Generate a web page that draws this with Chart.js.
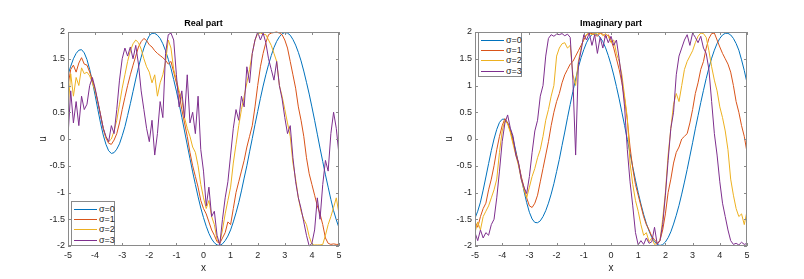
<!DOCTYPE html>
<html>
<head>
<meta charset="utf-8">
<script src="https://cdn.jsdelivr.net/npm/chart.js@4.4.0/dist/chart.umd.min.js"></script>
<style>
html,body{margin:0;padding:0;background:#fff;}
body{width:804px;height:279px;overflow:hidden;position:relative;font-family:"Liberation Sans",Arial,sans-serif;}
canvas{position:absolute;top:0;}
#c1{left:0;}
#c2{left:402px;}
.legend{position:absolute;box-sizing:border-box;border:1px solid #8a8a8a;background:#fff;font-size:9px;color:#262626;}
.legend .row{position:absolute;left:0;height:10px;width:100%;}
.legend .ln{position:absolute;left:2px;width:23px;top:5px;height:0;border-top:1px solid;}
.legend .tx{position:absolute;left:27px;top:0;line-height:10px;white-space:nowrap;}
</style>
</head>
<body>
<canvas id="c1" width="402" height="279"></canvas>
<canvas id="c2" width="402" height="279"></canvas>
<div id="leg1" class="legend" style="left:71px;top:201px;width:44px;height:45px;"></div>
<div id="leg2" class="legend" style="left:478px;top:32px;width:44px;height:45px;"></div>
<script>
// ---- data ----
const xGrid = [-5.0,-4.9,-4.8,-4.7,-4.6,-4.5,-4.4,-4.3,-4.2,-4.1,
-4.0,-3.9,-3.8,-3.7,-3.6,-3.5,-3.4,-3.3,-3.2,-3.1,
-3.0,-2.9,-2.8,-2.7,-2.6,-2.5,-2.4,-2.3,-2.2,-2.1,
-2.0,-1.9,-1.8,-1.7,-1.6,-1.5,-1.4,-1.3,-1.2,-1.1,
-1.0,-0.9,-0.8,-0.7,-0.6,-0.5,-0.4,-0.3,-0.2,-0.1,
0.0,0.1,0.2,0.3,0.4,0.5,0.6,0.7,0.8,0.9,
1.0,1.1,1.2,1.3,1.4,1.5,1.6,1.7,1.8,1.9,
2.0,2.1,2.2,2.3,2.4,2.5,2.6,2.7,2.8,2.9,
3.0,3.1,3.2,3.3,3.4,3.5,3.6,3.7,3.8,3.9,
4.0,4.1,4.2,4.3,4.4,4.5,4.6,4.7,4.8,4.9,
5.0];

const seriesLabels = ['σ=0','σ=1','σ=2','σ=3'];
const seriesColors = ['#0072BD','#D95319','#EDB120','#7E2F8E'];
const xTicks = [-5,-4,-3,-2,-1,0,1,2,3,4,5];
const yTicks = [-2,-1.5,-1,-0.5,0,0.5,1,1.5,2];

const realS0 = [1.20,1.36,1.50,1.60,1.66,1.67,1.61,1.485,1.30,1.075,
0.82,0.555,0.30,0.076,-0.10,-0.22,-0.27,-0.255,-0.19,-0.09,
0.06,0.23,0.44,0.66,0.89,1.12,1.34,1.53,1.70,1.83,
1.93,1.975,1.975,1.94,1.88,1.78,1.65,1.49,1.32,1.11,
0.895,0.66,0.405,0.15,-0.11,-0.365,-0.615,-0.85,-1.08,-1.29,
-1.47,-1.63,-1.765,-1.87,-1.94,-1.98,-1.99,-1.96,-1.90,-1.815,
-1.70,-1.55,-1.38,-1.19,-0.97,-0.73,-0.50,-0.24,0.01,0.27,
0.515,0.76,0.99,1.20,1.39,1.56,1.71,1.825,1.91,1.965,
1.99,1.98,1.94,1.86,1.755,1.62,1.46,1.27,1.06,0.84,
0.60,0.35,0.09,-0.17,-0.42,-0.67,-0.90,-1.13,-1.34,-1.51,
-1.66];
const realS1 = [1.00,1.30,1.38,1.25,1.42,1.52,1.40,1.38,1.25,1.10,
0.92,0.70,0.45,0.20,0.02,-0.08,-0.10,-0.02,0.10,0.30,
0.55,0.78,1.00,1.20,1.38,1.55,1.72,1.82,1.88,1.84,
1.76,1.72,1.65,1.60,1.56,1.52,1.47,1.40,1.45,1.25,
1.05,0.85,0.55,0.30,0.05,-0.25,-0.50,-0.70,-0.90,-1.15,
-1.30,-1.40,-1.55,-1.70,-1.80,-1.92,-1.95,-1.85,-1.75,-1.55,
-1.60,-1.30,-1.00,-0.80,-0.60,-0.40,-0.15,0.05,0.25,0.60,
1.00,1.35,1.60,1.80,1.95,1.98,1.99,2.00,1.98,1.95,
1.85,1.70,1.45,1.20,0.95,0.60,0.35,0.05,-0.35,-0.65,
-0.85,-1.05,-1.25,-1.40,-1.60,-1.85,-1.95,-1.97,-1.96,-1.97,
-1.97];
const realS2 = [0.55,1.22,0.80,1.15,1.00,1.33,1.22,1.25,1.18,1.05,
0.90,0.68,0.45,0.20,0.02,-0.05,0.00,0.15,0.35,0.65,
0.95,1.20,1.45,1.65,1.78,1.85,1.80,1.68,1.50,1.35,
1.25,1.05,1.20,0.80,1.05,1.20,1.45,1.85,1.70,1.30,
1.10,0.90,0.75,0.40,0.20,0.05,-0.15,-0.25,-0.50,-0.85,
-1.10,-1.30,-1.15,-1.45,-1.60,-1.88,-1.95,-1.70,-1.40,-1.15,
-0.90,-0.45,-0.10,0.25,0.55,0.80,1.05,1.30,1.60,1.85,
1.97,1.98,1.96,1.95,1.85,1.75,1.60,1.45,1.00,0.80,
0.55,0.30,0.05,-0.45,-0.75,-1.10,-1.35,-1.50,-1.60,-1.82,
-1.97,-1.98,-1.98,-1.98,-1.97,-1.80,-1.60,-1.45,-1.28,-1.10,
-1.40];
const realS3 = [0.05,0.90,0.30,0.70,0.25,0.80,0.55,0.65,1.00,1.15,
0.95,0.70,0.45,0.20,0.05,-0.05,0.25,0.10,0.55,1.10,
1.50,1.70,1.55,1.72,1.50,1.75,1.40,0.90,0.55,0.20,
-0.05,0.35,-0.30,0.10,0.70,0.40,1.60,1.95,1.98,1.85,
1.20,0.60,0.90,0.40,1.20,0.30,0.50,0.10,0.80,-0.20,
-0.60,-1.25,-0.90,-1.45,-1.35,-1.80,-1.98,-1.50,-1.10,-0.80,
-0.30,0.20,0.55,0.35,0.80,0.60,1.35,1.05,1.60,1.85,
2.00,1.85,1.98,1.80,1.50,1.30,1.10,1.45,1.00,0.75,
0.40,0.10,0.25,-0.35,-0.80,-1.10,-1.30,-1.55,-1.80,-2.00,
-1.95,-1.70,-1.10,-1.50,-0.85,-0.40,-0.60,0.10,0.50,0.20,
-0.30];

const imagS0 = [-1.48,-1.35,-1.18,-0.955,-0.71,-0.46,-0.215,0.00,0.18,0.31,
0.37,0.37,0.305,0.18,0.00,-0.22,-0.47,-0.72,-0.97,-1.19,
-1.37,-1.495,-1.56,-1.565,-1.53,-1.45,-1.34,-1.20,-1.03,-0.835,
-0.61,-0.38,-0.12,0.13,0.395,0.645,0.89,1.12,1.34,1.52,
1.67,1.80,1.895,1.95,1.97,1.95,1.90,1.82,1.705,1.56,
1.39,1.195,0.98,0.75,0.50,0.25,-0.01,-0.27,-0.52,-0.77,
-1.00,-1.215,-1.41,-1.58,-1.72,-1.84,-1.92,-1.97,-1.99,-1.975,
-1.925,-1.845,-1.735,-1.59,-1.425,-1.24,-1.03,-0.805,-0.57,-0.32,
-0.07,0.19,0.435,0.68,0.91,1.13,1.33,1.51,1.66,1.785,
1.88,1.945,1.975,1.975,1.945,1.88,1.785,1.66,1.48,1.28,
1.05];
const imagS1 = [-1.55,-1.65,-1.45,-1.30,-1.20,-0.95,-0.75,-0.50,-0.20,0.05,
0.25,0.38,0.30,0.15,-0.05,-0.25,-0.45,-0.70,-0.90,-1.10,
-1.25,-1.28,-1.20,-1.05,-0.80,-0.55,-0.30,-0.05,0.25,0.50,
0.70,0.85,1.05,1.20,1.30,1.40,1.45,1.55,1.65,1.75,
1.85,1.95,1.98,1.97,1.95,1.92,1.98,1.96,1.90,1.95,
1.85,1.70,1.50,1.30,1.05,0.75,0.35,-0.15,-0.55,-0.85,
-1.05,-1.25,-1.45,-1.60,-1.70,-1.82,-1.88,-1.95,-1.90,-1.70,
-1.40,-1.00,-0.75,-0.45,-0.25,-0.15,0.00,0.05,0.10,0.30,
0.55,0.85,1.05,1.30,1.45,1.70,1.88,1.97,1.98,1.85,
1.72,1.60,1.50,1.40,1.25,1.00,0.70,0.50,0.25,0.05,
-0.25];
const imagS2 = [-1.75,-1.55,-1.70,-1.45,-1.35,-1.25,-1.10,-0.95,-0.75,-0.25,
0.15,0.35,0.28,0.12,-0.10,-0.30,-0.50,-0.75,-0.95,-1.10,
-0.90,-0.70,-0.55,-0.35,-0.20,0.05,0.35,0.55,0.80,1.00,
1.55,1.70,1.78,1.80,1.70,1.75,1.20,1.00,1.45,1.70,
1.90,1.95,1.98,1.95,1.98,1.96,1.99,1.93,1.97,1.92,
1.80,1.85,1.60,1.45,1.20,0.80,0.40,-0.45,-0.85,-1.15,
-1.35,-1.60,-1.80,-1.75,-1.92,-1.85,-1.97,-1.95,-1.90,-1.50,
-1.00,-0.30,0.20,0.65,0.85,0.70,1.00,1.30,1.45,1.55,
1.65,1.80,1.92,1.98,1.97,1.90,1.65,1.35,1.10,0.90,
0.60,0.40,0.15,-0.20,-0.75,-1.05,-1.30,-1.45,-1.40,-1.60,
-1.35];
const imagS3 = [-1.75,-1.90,-1.70,-1.85,-1.75,-1.80,-1.60,-1.50,-1.10,-0.60,
-0.05,0.30,0.45,0.20,0.05,-0.30,-0.45,-0.75,-0.90,-1.02,
-0.70,-0.25,0.15,0.35,0.80,1.00,1.55,1.88,1.95,1.92,
1.96,1.95,1.97,1.93,1.96,1.90,1.10,-0.30,1.40,1.65,
1.95,1.85,1.98,1.75,1.95,1.60,1.90,1.70,1.95,1.80,
1.92,1.75,1.85,1.50,1.10,0.60,-0.20,-0.80,-1.25,-1.75,
-1.98,-1.90,-1.97,-1.85,-1.95,-1.92,-1.65,-1.97,-1.90,-1.60,
-1.05,-0.40,0.20,0.50,1.20,1.55,1.70,1.85,1.95,1.75,
1.98,1.90,1.80,1.92,1.70,1.60,1.30,0.70,0.10,-0.30,
-0.80,-1.20,-1.45,-1.70,-1.90,-1.97,-1.95,-1.98,-1.93,-1.97,
-1.95];

// ---- chart helpers ----
const AXIS_COLOR = '#8a8a8a';
const TEXT_COLOR = '#262626';
const FONT_FAMILY = '"Liberation Sans", Arial, Helvetica, sans-serif';

const boxPlugin = {
  id: 'matlabBox',
  afterDraw(chart) {
    const {ctx, chartArea: a, scales} = chart;
    ctx.save();
    ctx.strokeStyle = AXIS_COLOR;
    ctx.lineWidth = 1;
    ctx.strokeRect(a.left + 0.5, a.top + 0.5, a.right - a.left - 1, a.bottom - a.top - 1);
    ctx.beginPath();
    const tl = 3;
    xTicks.forEach(v => {
      const px = Math.round(scales.x.getPixelForValue(v)) + 0.5;
      ctx.moveTo(px, a.bottom); ctx.lineTo(px, a.bottom - tl);
      ctx.moveTo(px, a.top); ctx.lineTo(px, a.top + tl);
    });
    yTicks.forEach(v => {
      const py = Math.round(scales.y.getPixelForValue(v)) + 0.5;
      ctx.moveTo(a.left, py); ctx.lineTo(a.left + tl, py);
      ctx.moveTo(a.right, py); ctx.lineTo(a.right - tl, py);
    });
    ctx.stroke();
    // title
    const t = chart.options.plugins.matlabBox.title;
    ctx.fillStyle = '#000';
    ctx.font = 'bold 9px ' + FONT_FAMILY;
    ctx.textAlign = 'center';
    ctx.textBaseline = 'middle';
    ctx.fillText(t, (a.left + a.right) / 2, a.top - 8);
    ctx.restore();
  }
};

function makeChart(canvasId, title, series, yAxisWidth, padRight, yTitlePad) {
  const datasets = series.map((arr, i) => ({
    label: seriesLabels[i],
    data: xGrid.map((x, j) => ({x: x, y: arr[j]})),
    borderColor: seriesColors[i],
    backgroundColor: seriesColors[i],
    borderWidth: 1,
    pointRadius: 0,
    tension: 0,
    fill: false,
    order: 3 - i,
    clip: {left: 0, right: 0, top: 1, bottom: 1}
  }));
  return new Chart(document.getElementById(canvasId), {
    type: 'line',
    data: {datasets: datasets},
    plugins: [boxPlugin],
    options: {
      responsive: false,
      animation: false,
      devicePixelRatio: 1,
      layout: {padding: {top: 32, right: padRight, bottom: 0, left: 0}},
      plugins: {
        legend: {display: false},
        tooltip: {enabled: false},
        title: {display: false},
        matlabBox: {title: title}
      },
      scales: {
        x: {
          type: 'linear', min: -5, max: 5,
          grid: {display: false, drawTicks: false, tickLength: 0},
          border: {display: false},
          afterBuildTicks: s => { s.ticks = xTicks.map(v => ({value: v})); },
          afterFit: s => { s.height = 33; },
          ticks: {
            color: TEXT_COLOR, padding: 4, maxRotation: 0, autoSkip: false,
            font: {family: FONT_FAMILY, size: 9},
            callback: v => String(v)
          },
          title: {display: true, text: 'x', color: TEXT_COLOR,
                  font: {family: FONT_FAMILY, size: 10}, padding: {top: 0, bottom: 5}}
        },
        y: {
          type: 'linear', min: -2, max: 2,
          grid: {display: false, drawTicks: false, tickLength: 0},
          border: {display: false},
          afterBuildTicks: s => { s.ticks = yTicks.map(v => ({value: v})); },
          afterFit: s => { s.width = yAxisWidth; },
          ticks: {
            color: TEXT_COLOR, padding: 3, autoSkip: false,
            font: {family: FONT_FAMILY, size: 9},
            callback: v => String(v)
          },
          title: {display: true, text: 'u', color: TEXT_COLOR,
                  font: {family: FONT_FAMILY, size: 10}, padding: {top: yTitlePad, bottom: 0}}
        }
      }
    }
  });
}

makeChart('c1', 'Real part', [realS0, realS1, realS2, realS3], 68, 63, 37);
makeChart('c2', 'Imaginary part', [imagS0, imagS1, imagS2, imagS3], 73, 57, 41);

function buildLegend(id) {
  const box = document.getElementById(id);
  seriesLabels.forEach((lab, i) => {
    const row = document.createElement('div');
    row.className = 'row';
    row.style.top = (1.5 + i * 10.4) + 'px';
    const ln = document.createElement('div');
    ln.className = 'ln';
    ln.style.borderTopColor = seriesColors[i];
    const tx = document.createElement('div');
    tx.className = 'tx';
    tx.textContent = lab;
    row.appendChild(ln);
    row.appendChild(tx);
    box.appendChild(row);
  });
}
buildLegend('leg1');
buildLegend('leg2');
</script>
</body>
</html>
